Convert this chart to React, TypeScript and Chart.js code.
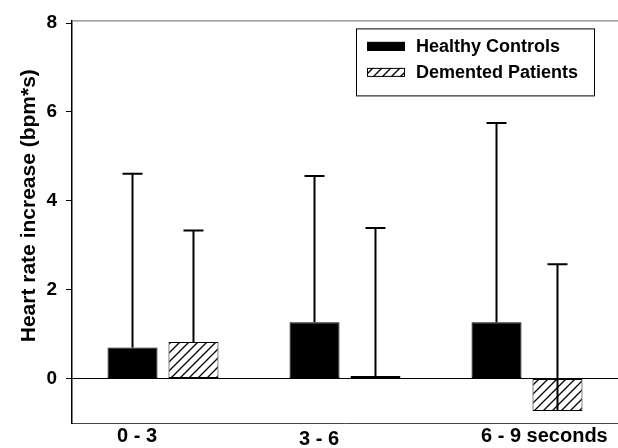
import React, { useEffect, useRef } from 'react';
import { Chart, registerables } from 'chart.js';

Chart.register(...registerables);

const categories = ['0 - 3', '3 - 6', '6 - 9 seconds'];
const healthyMeans = [0.7, 1.27, 1.27];
const healthyErr = [3.91, 3.29, 4.48];
const dementedMeans = [0.82, 0.06, -0.73];
const dementedErr = [2.51, 3.33, 3.3];
const yTicks = [0, 2, 4, 6, 8];
const seriesNames = ['Healthy Controls', 'Demented Patients'];
const yTitle = 'Heart rate increase (bpm*s)';

const FONT = "'Liberation Sans', Arial, Helvetica, sans-serif";

function makeHatch(): CanvasPattern | string {
  const s = 9;
  const c = document.createElement('canvas');
  c.width = s;
  c.height = s;
  const g = c.getContext('2d');
  if (!g) return '#fff';
  g.fillStyle = '#fff';
  g.fillRect(0, 0, s, s);
  g.strokeStyle = '#000';
  g.lineWidth = 1.3;
  g.beginPath();
  g.moveTo(-1, 1);
  g.lineTo(1, -1);
  g.moveTo(-1, s + 1);
  g.lineTo(s + 1, -1);
  g.moveTo(s - 1, s + 1);
  g.lineTo(s + 1, s - 1);
  g.stroke();
  const p = g.createPattern(c, 'repeat');
  return p || '#fff';
}

const decor = {
  id: 'decor',
  afterDatasetsDraw(chart: any) {
    const ctx = chart.ctx as CanvasRenderingContext2D;
    const y = chart.scales.y;
    chart.data.datasets.forEach((ds: any, di: number) => {
      const meta = chart.getDatasetMeta(di);
      meta.data.forEach((bar: any, i: number) => {
        const v = ds.data[i];
        const from = y.getPixelForValue(v);
        const top = y.getPixelForValue(v + ds.errors[i]);
        ctx.save();
        ctx.strokeStyle = '#000';
        ctx.lineWidth = 2;
        ctx.beginPath();
        ctx.moveTo(bar.x, from);
        ctx.lineTo(bar.x, top);
        ctx.moveTo(bar.x - 10, top);
        ctx.lineTo(bar.x + 10, top);
        ctx.stroke();
        ctx.restore();
      });
    });
  },
  afterDraw(chart: any) {
    const ctx = chart.ctx as CanvasRenderingContext2D;
    const area = chart.chartArea;
    const x = chart.scales.x;
    ctx.save();
    // top frame line
    ctx.strokeStyle = '#666';
    ctx.lineWidth = 1;
    ctx.beginPath();
    ctx.moveTo(area.left, area.top + 0.5);
    ctx.lineTo(area.right, area.top + 0.5);
    ctx.stroke();

    // category labels
    ctx.fillStyle = '#000';
    ctx.font = `bold 20px ${FONT}`;
    ctx.textAlign = 'left';
    ctx.textBaseline = 'middle';
    chart.data.labels.forEach((lab: string, i: number) => {
      const px = x.getPixelForValue(i);
      ctx.fillText(lab, px - 46, area.bottom + (i === 1 ? 16 : 13));
    });

    // y title
    ctx.save();
    ctx.translate(29, (area.top + area.bottom) / 2 - 16);
    ctx.rotate(-Math.PI / 2);
    ctx.textAlign = 'center';
    ctx.textBaseline = 'middle';
    ctx.font = `bold 21px ${FONT}`;
    ctx.fillText(yTitle, 0, 0);
    ctx.restore();

    // legend
    const fl = area.right - 262;
    const ft = area.top + 8;
    ctx.fillStyle = '#fff';
    ctx.fillRect(fl, ft, 238, 67);
    ctx.strokeStyle = '#000';
    ctx.lineWidth = 1;
    ctx.strokeRect(fl + 0.5, ft + 0.5, 238, 67);
    chart.data.datasets.forEach((ds: any, di: number) => {
      const cy = ft + 18 + di * 26;
      ctx.fillStyle = ds.backgroundColor;
      ctx.fillRect(fl + 11, cy - 4.5, 38, 9);
      ctx.strokeStyle = '#000';
      ctx.lineWidth = 1;
      ctx.strokeRect(fl + 11.5, cy - 4, 37, 8);
      ctx.fillStyle = '#000';
      ctx.font = `bold 18px ${FONT}`;
      ctx.textAlign = 'left';
      ctx.textBaseline = 'middle';
      ctx.fillText(ds.label, fl + 60, cy + 1);
    });
    ctx.restore();
  },
};

export default function App() {
  const ref = useRef<HTMLCanvasElement | null>(null);
  useEffect(() => {
    document.body.style.margin = '0';
    if (!ref.current) return;
    const hatch = makeHatch();
    const chart = new Chart(ref.current, {
      type: 'bar',
      data: {
        labels: categories,
        datasets: [
          {
            label: seriesNames[0],
            data: healthyMeans,
            errors: healthyErr,
            backgroundColor: '#000',
            borderColor: '#000',
            borderWidth: 1,
            borderSkipped: false,
          } as any,
          {
            label: seriesNames[1],
            data: dementedMeans,
            errors: dementedErr,
            backgroundColor: hatch,
            borderColor: '#000',
            borderWidth: 1,
            borderSkipped: false,
          } as any,
        ],
      },
      options: {
        animation: false,
        responsive: false,
        devicePixelRatio: 1,
        layout: { padding: { top: 20, left: 0, right: 0, bottom: 0 } },
        categoryPercentage: 0.67,
        barPercentage: 0.82,
        plugins: {
          legend: { display: false },
          tooltip: { enabled: false },
        },
        scales: {
          x: {
            type: 'category',
            grid: { display: false },
            ticks: { display: false },
            border: { display: true, color: '#444', width: 1 },
            afterFit: (s: any) => {
              s.height = 25;
            },
          },
          y: {
            min: -1,
            max: 8.06,
            afterBuildTicks: (s: any) => {
              s.ticks = yTicks.map((v) => ({ value: v }));
            },
            afterFit: (s: any) => {
              s.width = 72;
            },
            ticks: {
              color: '#000',
              padding: 9,
              font: { family: FONT, size: 19, weight: 'bold' },
            },
            grid: {
              color: (c: any) => (c.tick && c.tick.value === 0 ? '#000' : 'rgba(0,0,0,0)'),
              tickColor: '#000',
              tickLength: 6,
              lineWidth: 1,
            },
            border: { display: true, color: '#000', width: 1.5 },
          },
        },
      } as any,
      plugins: [decor],
    });
    return () => chart.destroy();
  }, []);
  return (
    <div style={{ width: 618, height: 448 }}>
      <canvas ref={ref} width={618} height={448} style={{ display: 'block' }} />
    </div>
  );
}
